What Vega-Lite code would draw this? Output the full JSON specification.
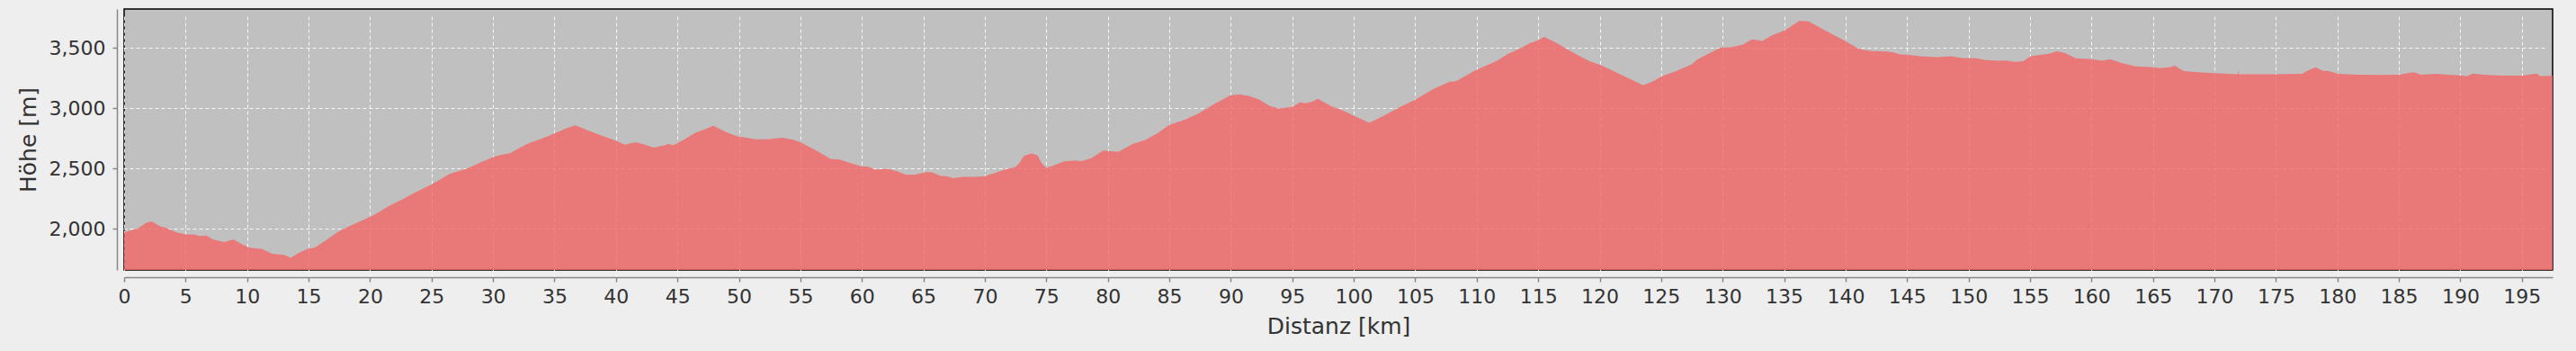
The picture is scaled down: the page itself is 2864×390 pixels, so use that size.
{
  "$schema": "https://vega.github.io/schema/vega-lite/v6.json",
  "autosize": "none",
  "width": 2700,
  "height": 290,
  "padding": {"left": 138, "top": 10, "right": 26, "bottom": 90},
  "background": "#eeeeee",
  "data": {"values": [
    {"km": 0, "h": 1970}, {"km": 0.61, "h": 1988}, {"km": 1.1, "h": 2002}, {"km": 1.83, "h": 2052}, {"km": 2.24, "h": 2062}, {"km": 2.93, "h": 2020}, {"km": 3.41, "h": 2007}, {"km": 4.27, "h": 1970}, {"km": 5.0, "h": 1953}, {"km": 5.73, "h": 1953}, {"km": 6.1, "h": 1940}, {"km": 6.71, "h": 1945}, {"km": 7.2, "h": 1913}, {"km": 8.17, "h": 1891}, {"km": 8.9, "h": 1913}, {"km": 9.39, "h": 1883}, {"km": 10.12, "h": 1846}, {"km": 11.22, "h": 1833}, {"km": 12.07, "h": 1794}, {"km": 13.05, "h": 1784}, {"km": 13.54, "h": 1759}, {"km": 14.27, "h": 1804}, {"km": 14.88, "h": 1833}, {"km": 15.49, "h": 1843}, {"km": 16.46, "h": 1908}, {"km": 17.44, "h": 1978}, {"km": 18.41, "h": 2027}, {"km": 19.39, "h": 2070}, {"km": 20.37, "h": 2117}, {"km": 21.59, "h": 2192}, {"km": 22.56, "h": 2241}, {"km": 23.54, "h": 2294}, {"km": 24.27, "h": 2331}, {"km": 25.0, "h": 2368}, {"km": 25.73, "h": 2410}, {"km": 26.46, "h": 2455}, {"km": 27.93, "h": 2502},
    {"km": 28.9, "h": 2547}, {"km": 30, "h": 2595}, {"km": 30.85, "h": 2617}, {"km": 31.34, "h": 2624}, {"km": 32.8, "h": 2704}, {"km": 34.02, "h": 2749}, {"km": 35.0, "h": 2791}, {"km": 35.98, "h": 2833}, {"km": 36.71, "h": 2858}, {"km": 37.68, "h": 2816}, {"km": 38.66, "h": 2779}, {"km": 39.88, "h": 2734}, {"km": 40.73, "h": 2697}, {"km": 41.59, "h": 2717}, {"km": 42.32, "h": 2699}, {"km": 43.05, "h": 2672}, {"km": 44.02, "h": 2694}, {"km": 44.27, "h": 2704}, {"km": 44.63, "h": 2692}, {"km": 45.49, "h": 2736}, {"km": 46.46, "h": 2796}, {"km": 47.2, "h": 2823}, {"km": 47.93, "h": 2853}, {"km": 48.9, "h": 2803}, {"km": 49.88, "h": 2766}, {"km": 50.61, "h": 2754}, {"km": 51.34, "h": 2741}, {"km": 52.32, "h": 2741}, {"km": 53.54, "h": 2754}, {"km": 54.39, "h": 2739}, {"km": 55.0, "h": 2717}, {"km": 55.73, "h": 2679}, {"km": 56.46, "h": 2640},
    {"km": 57.44, "h": 2580}, {"km": 58.17, "h": 2575}, {"km": 59.15, "h": 2542}, {"km": 60, "h": 2517}, {"km": 60.49, "h": 2517}, {"km": 61.1, "h": 2490}, {"km": 62.07, "h": 2497}, {"km": 62.8, "h": 2480}, {"km": 63.54, "h": 2450}, {"km": 64.27, "h": 2448}, {"km": 65.24, "h": 2470}, {"km": 65.73, "h": 2468}, {"km": 66.34, "h": 2440}, {"km": 66.95, "h": 2435}, {"km": 67.44, "h": 2420}, {"km": 68.17, "h": 2430}, {"km": 69.15, "h": 2430}, {"km": 69.95, "h": 2435}, {"km": 70.85, "h": 2465}, {"km": 71.59, "h": 2490}, {"km": 72.44, "h": 2510}, {"km": 72.8, "h": 2542}, {"km": 73.17, "h": 2604}, {"km": 73.78, "h": 2624}, {"km": 74.27, "h": 2609}, {"km": 74.63, "h": 2542}, {"km": 75.0, "h": 2505}, {"km": 75.61, "h": 2525}, {"km": 76.46, "h": 2560}, {"km": 77.44, "h": 2567}, {"km": 77.8, "h": 2560}, {"km": 78.66, "h": 2585}, {"km": 79.63, "h": 2649}, {"km": 80.24, "h": 2644}, {"km": 80.85, "h": 2637}, {"km": 82.07, "h": 2704}, {"km": 83.05, "h": 2736}, {"km": 84.02, "h": 2791}, {"km": 85.0, "h": 2862},
    {"km": 86.22, "h": 2903}, {"km": 87.32, "h": 2953}, {"km": 88.66, "h": 3035}, {"km": 90, "h": 3107}, {"km": 90.73, "h": 3112}, {"km": 91.46, "h": 3102}, {"km": 92.32, "h": 3070}, {"km": 93.17, "h": 3017}, {"km": 93.9, "h": 2998}, {"km": 95.0, "h": 3010}, {"km": 95.61, "h": 3047}, {"km": 96.1, "h": 3040}, {"km": 96.71, "h": 3057}, {"km": 97.07, "h": 3077}, {"km": 98.17, "h": 3015}, {"km": 99.15, "h": 2978}, {"km": 99.95, "h": 2940}, {"km": 101.27, "h": 2878}, {"km": 102.56, "h": 2943}, {"km": 103.78, "h": 3010}, {"km": 105.0, "h": 3070}, {"km": 106.46, "h": 3157}, {"km": 107.8, "h": 3219}, {"km": 108.29, "h": 3221}, {"km": 109.88, "h": 3313}, {"km": 111.59, "h": 3388}, {"km": 112.56, "h": 3450}, {"km": 113.54, "h": 3494},
    {"km": 114.32, "h": 3537}, {"km": 115, "h": 3562}, {"km": 115.49, "h": 3590}, {"km": 116.39, "h": 3545}, {"km": 117.24, "h": 3495}, {"km": 118.46, "h": 3425}, {"km": 119.2, "h": 3388}, {"km": 120.05, "h": 3356}, {"km": 120.9, "h": 3318}, {"km": 122.12, "h": 3259}, {"km": 123.54, "h": 3189}, {"km": 124.32, "h": 3221}, {"km": 125.05, "h": 3264}, {"km": 126.27, "h": 3308}, {"km": 127.49, "h": 3363}, {"km": 127.98, "h": 3405}, {"km": 128.95, "h": 3455}, {"km": 129.8, "h": 3500}, {"km": 130.66, "h": 3505}, {"km": 131.63, "h": 3525}, {"km": 132.37, "h": 3570}, {"km": 133.22, "h": 3557}, {"km": 134.07, "h": 3604}, {"km": 135.05, "h": 3644}, {"km": 136.27, "h": 3724}, {"km": 137.0, "h": 3719}, {"km": 138.46, "h": 3637}, {"km": 140.05, "h": 3550}, {"km": 141.15, "h": 3488}, {"km": 142.12, "h": 3472},
    {"km": 143.1, "h": 3470}, {"km": 143.83, "h": 3463}, {"km": 144.44, "h": 3445}, {"km": 145, "h": 3443}, {"km": 146.02, "h": 3430}, {"km": 147.49, "h": 3423}, {"km": 148.59, "h": 3430}, {"km": 149.44, "h": 3415}, {"km": 150.66, "h": 3413}, {"km": 151.39, "h": 3398}, {"km": 152.37, "h": 3393}, {"km": 153.1, "h": 3395}, {"km": 153.71, "h": 3383}, {"km": 154.44, "h": 3388}, {"km": 155.05, "h": 3430}, {"km": 156.51, "h": 3450}, {"km": 157.24, "h": 3470}, {"km": 157.85, "h": 3455}, {"km": 158.71, "h": 3413}, {"km": 160.0, "h": 3405}, {"km": 160.9, "h": 3393}, {"km": 161.51, "h": 3405}, {"km": 162.37, "h": 3376}, {"km": 163.59, "h": 3346}, {"km": 165.05, "h": 3338}, {"km": 165.54, "h": 3331}, {"km": 166.51, "h": 3341}, {"km": 166.76, "h": 3353}, {"km": 167.49, "h": 3306}, {"km": 168.95, "h": 3296}, {"km": 170.66, "h": 3287},
    {"km": 171.88, "h": 3281}, {"km": 171.93, "h": 3313}, {"km": 171.98, "h": 3281}, {"km": 173.1, "h": 3281}, {"km": 175, "h": 3281}, {"km": 177.12, "h": 3284}, {"km": 177.61, "h": 3313}, {"km": 178.22, "h": 3338}, {"km": 178.83, "h": 3308}, {"km": 179.32, "h": 3306}, {"km": 180.05, "h": 3284}, {"km": 181.63, "h": 3276}, {"km": 183.34, "h": 3274}, {"km": 185.05, "h": 3276}, {"km": 185.9, "h": 3294}, {"km": 186.27, "h": 3296}, {"km": 186.76, "h": 3276}, {"km": 188.1, "h": 3284}, {"km": 188.95, "h": 3276}, {"km": 190.0, "h": 3271}, {"km": 190.54, "h": 3264}, {"km": 191.02, "h": 3286}, {"km": 191.88, "h": 3276}, {"km": 193.34, "h": 3269}, {"km": 195.05, "h": 3269}, {"km": 195.54, "h": 3276}, {"km": 196.22, "h": 3286}, {"km": 196.51, "h": 3264}, {"km": 197.5, "h": 3269}
  ]},
  "mark": {"type": "area", "color": "#f26666", "opacity": 0.8, "interpolate": "linear", "clip": true},
  "encoding": {
    "x": {
      "field": "km", "type": "quantitative",
      "scale": {"domain": [0, 197.5], "nice": false, "zero": false},
      "axis": {
        "title": "Distanz [km]",
        "values": [0,5,10,15,20,25,30,35,40,45,50,55,60,65,70,75,80,85,90,95,100,105,110,115,120,125,130,135,140,145,150,155,160,165,170,175,180,185,190,195],
        "format": "d",
        "labelPadding": 6,
        "titlePadding": 10
      }
    },
    "y": {
      "field": "h", "type": "quantitative",
      "scale": {"domain": [1659, 3821], "nice": false, "zero": false},
      "axis": {
        "title": "Höhe [m]",
        "values": [2000, 2500, 3000, 3500],
        "format": ",d",
        "labelPadding": 8,
        "titlePadding": 10
      }
    }
  },
  "config": {
    "view": {"fill": "#c0c0c0", "stroke": "#000000", "strokeWidth": 1.5},
    "axis": {
      "offset": 8,
      "tickSize": 5,
      "domainColor": "#888888",
      "domainWidth": 1.5,
      "tickColor": "#888888",
      "tickWidth": 1.5,
      "labelFont": "DejaVu Sans",
      "labelFontSize": 22,
      "labelColor": "#333333",
      "labelFlush": false,
      "labelOverlap": false,
      "titleFont": "DejaVu Sans",
      "titleFontSize": 25,
      "titleFontWeight": "normal",
      "titleColor": "#333333",
      "grid": true,
      "gridColor": "#ffffff",
      "gridDash": [4, 3],
      "gridOpacity": 0.85,
      "gridWidth": 1
    }
  }
}
